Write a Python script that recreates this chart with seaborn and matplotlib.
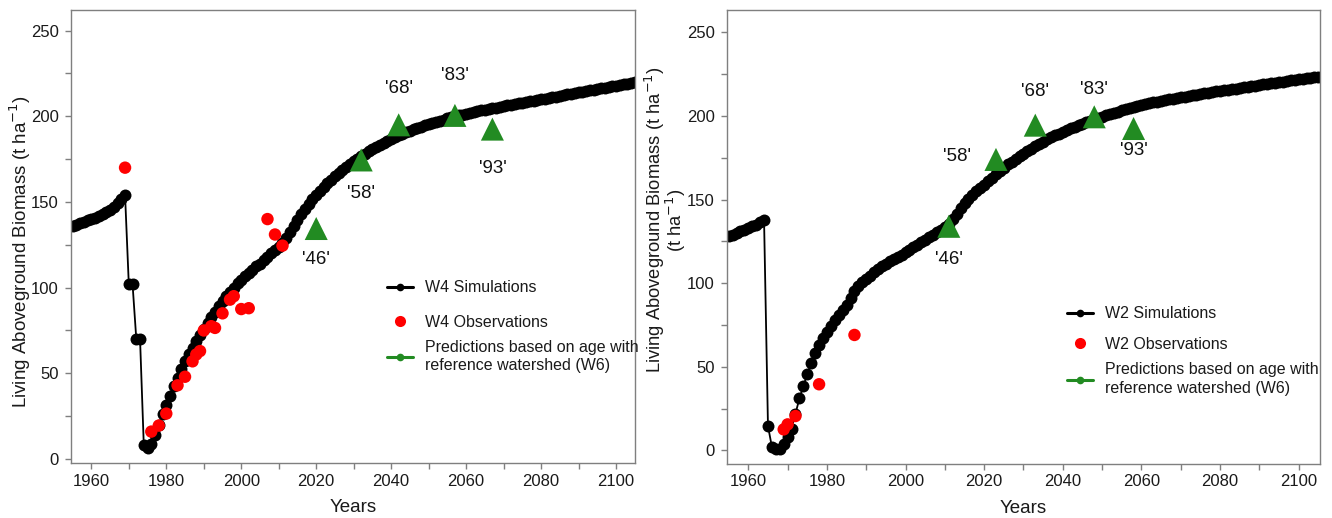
import matplotlib
matplotlib.use("Agg")
import matplotlib.pyplot as plt
from matplotlib.lines import Line2D
import seaborn as sns

# ---------------------------------------------------------------------------
# Data
# ---------------------------------------------------------------------------
sim_years = list(range(1955, 2106))

# W4: simulated living aboveground biomass (t/ha), one value per year 1955-2105
w4_sim = [
    136.0, 136.8, 137.6, 138.4, 139.2, 140.0, 140.9, 141.8, 142.8, 143.9,   # 1955-1964
    145.3, 147.2, 149.6, 152.0, 154.0, 102.0, 102.0, 70.0, 70.0, 8.0,       # 1965-1974
    6.5, 9.0, 14.0, 20.0, 26.0, 31.5, 37.0, 42.5, 47.5, 52.5,               # 1975-1984
    57.0, 61.0, 65.0, 69.0, 72.5, 76.0, 79.5, 83.0, 86.0, 89.0,             # 1985-1994
    92.0, 95.0, 97.5, 100.0, 102.5, 104.5, 106.5, 108.5, 110.5, 112.5,      # 1995-2004
    114.0, 116.0, 118.0, 120.0, 122.0, 124.0, 126.0, 129.0, 132.5, 136.0,   # 2005-2014
    139.5, 143.0, 146.0, 149.0, 151.5, 154.0, 156.5, 159.0, 161.0, 163.0,   # 2015-2024
    165.0, 167.0, 168.8, 170.5, 172.2, 173.8, 175.3, 176.8, 178.2, 179.6,   # 2025-2034
    181.0, 182.2, 183.4, 184.6, 185.7, 186.8, 187.8, 188.8, 189.7, 190.6,   # 2035-2044
    191.5, 192.3, 193.1, 193.9, 194.7, 195.5, 196.2, 196.9, 197.5, 198.1,   # 2045-2054
    198.7, 199.3, 199.9, 200.5, 201.0, 201.5, 202.0, 202.5, 203.0, 203.4,   # 2055-2064
    203.8, 204.3, 204.7, 205.1, 205.5, 205.9, 206.3, 206.7, 207.1, 207.5,   # 2065-2074
    207.9, 208.3, 208.7, 209.1, 209.5, 209.9, 210.3, 210.7, 211.1, 211.5,   # 2075-2084
    211.9, 212.3, 212.7, 213.1, 213.5, 213.9, 214.3, 214.7, 215.1, 215.5,   # 2085-2094
    215.9, 216.3, 216.7, 217.1, 217.5, 217.9, 218.3, 218.7, 219.1, 219.5,   # 2095-2104
    219.9,                                                                  # 2105
]

# W2: simulated living aboveground biomass (t/ha), one value per year 1955-2105
w2_sim = [
    128.0, 129.0, 130.0, 131.0, 132.0, 133.0, 134.0, 135.0, 136.5, 138.0,   # 1955-1964
    14.5, 2.0, 1.0, 1.0, 4.0, 8.0, 13.0, 22.0, 31.0, 38.5,                  # 1965-1974
    45.5, 52.5, 58.0, 63.0, 67.0, 71.0, 74.5, 78.0, 81.0, 84.0,             # 1975-1984
    87.0, 91.0, 95.0, 98.0, 100.5, 102.5, 104.5, 106.5, 108.3, 110.0,       # 1985-1994
    111.5, 113.0, 114.3, 115.5, 117.0, 118.5, 120.0, 121.5, 123.0, 124.5,   # 1995-2004
    126.0, 127.5, 129.0, 130.5, 132.0, 133.5, 135.5, 138.5, 141.5, 145.0,   # 2005-2014
    148.0, 150.5, 153.0, 155.0, 157.0, 159.0, 161.0, 163.0, 165.0, 167.0,   # 2015-2024
    169.0, 171.0, 172.7, 174.4, 176.0, 177.5, 179.0, 180.5, 182.0, 183.4,   # 2025-2034
    184.7, 186.0, 187.2, 188.4, 189.5, 190.6, 191.6, 192.6, 193.6, 194.5,   # 2035-2044
    195.4, 196.3, 197.1, 197.9, 198.7, 199.5, 200.3, 201.1, 201.9, 202.6,   # 2045-2054
    203.3, 204.0, 204.7, 205.3, 205.9, 206.5, 207.1, 207.6, 208.1, 208.6,   # 2055-2064
    209.1, 209.6, 210.0, 210.4, 210.8, 211.2, 211.6, 212.0, 212.4, 212.8,   # 2065-2074
    213.2, 213.6, 214.0, 214.3, 214.7, 215.0, 215.4, 215.7, 216.1, 216.4,   # 2075-2084
    216.8, 217.1, 217.5, 217.8, 218.2, 218.5, 218.9, 219.2, 219.6, 219.9,   # 2085-2094
    220.3, 220.6, 221.0, 221.3, 221.7, 222.0, 222.3, 222.6, 222.9, 223.2,   # 2095-2104
    223.5,                                                                  # 2105
]

# Field observations
w4_obs_years = [1969, 1976, 1978, 1980, 1983, 1985, 1987, 1988, 1989, 1990,
                1992, 1993, 1995, 1997, 1998, 2000, 2002, 2007, 2009, 2011]
w4_obs = [170.0, 16.0, 19.5, 26.5, 43.0, 48.0, 57.0, 61.0, 63.0, 75.0,
          77.5, 76.5, 85.0, 93.0, 95.0, 87.5, 88.0, 140.0, 131.0, 124.5]

w2_obs_years = [1969, 1970, 1972, 1978, 1987]
w2_obs = [12.5, 15.5, 20.5, 39.5, 69.0]

# Age-based predictions from the reference watershed (W6)
pred_labels = ["'46'", "'58'", "'68'", "'83'", "'93'"]
w4_pred_years = [2020, 2032, 2042, 2057, 2067]
w4_pred = [134.5, 174.5, 195.0, 200.5, 192.5]
w2_pred_years = [2011, 2023, 2033, 2048, 2058]
w2_pred = [134.0, 174.0, 194.5, 199.5, 192.5]

# label offsets (points) relative to each triangle
w4_label_offsets = [(0, -22), (0, -24.5), (0, 26), (0, 29), (0, -28.5)]
w2_label_offsets = [(0, -24), (-28, 2), (0, 24), (0, 19.5), (0, -16)]

x_ticks = list(range(1960, 2101, 10))
x_tick_labels = [str(t) if t % 20 == 0 else "" for t in x_ticks]
y_ticks = list(range(0, 251, 25))
y_tick_labels = [str(t) if t % 50 == 0 else "" for t in y_ticks]

# ---------------------------------------------------------------------------
# Style
# ---------------------------------------------------------------------------
sns.set_style("ticks")
plt.rcParams["font.family"] = ["Liberation Sans", "DejaVu Sans"]

GREEN = "#228B22"
SPINE = "#7f7f7f"
TEXT = "#1a1a1a"

fig = plt.figure(figsize=(13.32, 5.18), dpi=100)
ax_l = fig.add_axes([0.05308, 0.10560, 0.42380, 0.87510])
ax_r = fig.add_axes([0.54557, 0.10425, 0.44505, 0.87645])


def draw_panel(ax, sim, obs_years, obs, pred_years, pred, offsets, ylim, xlim):
    sns.lineplot(x=sim_years, y=sim, ax=ax, color="black", linewidth=1.3,
                 marker="o", markersize=8.6, markeredgewidth=0, legend=False,
                 zorder=2)
    sns.scatterplot(x=obs_years, y=obs, ax=ax, color="red", s=80,
                    edgecolor="none", linewidth=0, zorder=3, legend=False)
    sns.scatterplot(x=pred_years, y=pred, ax=ax, color=GREEN, marker="^",
                    s=275, edgecolor="none", linewidth=0, zorder=4, legend=False)
    for lab, px, py, off in zip(pred_labels, pred_years, pred, offsets):
        ax.annotate(lab, (px, py), xytext=off, textcoords="offset points",
                    ha="center", va="center", fontsize=13.5, color="#111111")

    ax.set_xlim(*xlim)
    ax.set_ylim(*ylim)
    ax.set_xticks(x_ticks)
    ax.set_xticklabels(x_tick_labels)
    ax.set_yticks(y_ticks)
    ax.set_yticklabels(y_tick_labels)
    ax.tick_params(axis="both", direction="out", length=4.5, width=1,
                   color=SPINE, labelcolor=TEXT, labelsize=12)
    ax.tick_params(axis="x", pad=3)
    ax.tick_params(axis="y", pad=4)
    for sp in ax.spines.values():
        sp.set_visible(True)
        sp.set_color(SPINE)
        sp.set_linewidth(1.0)
    ax.set_xlabel("Years", fontsize=13.5, color=TEXT, va="center")
    ax.xaxis.set_label_coords(0.5, -0.0985)


draw_panel(ax_l, w4_sim, w4_obs_years, w4_obs, w4_pred_years, w4_pred,
           w4_label_offsets, (-2.5, 262), (1954.5, 2105.1))
draw_panel(ax_r, w2_sim, w2_obs_years, w2_obs, w2_pred_years, w2_pred,
           w2_label_offsets, (-8.2, 263.4), (1954.5, 2105.3))

ax_l.set_ylabel("Living Aboveground Biomass (t ha$^{-1}$)", fontsize=13.5,
                color=TEXT, va="center")
ax_l.yaxis.set_label_coords(-0.0886, 0.466)
ax_r.set_ylabel("Living Aboveground Biomass (t ha$^{-1}$)\n(t ha$^{-1}$)",
                fontsize=13.2, color=TEXT, va="center", linespacing=0.82)
ax_r.yaxis.set_label_coords(-0.1035, 0.537)


def add_legends(ax, site, x0, top_y, spacing, pred_center_y):
    """Simulation/observation entries, then the prediction entry below them."""
    w, h = fig.get_size_inches() * fig.dpi
    common = dict(frameon=False, fontsize=11.5, handlelength=1.66,
                  handletextpad=0.73, borderpad=0, borderaxespad=0,
                  labelcolor=TEXT, bbox_transform=fig.transFigure)
    first = [
        Line2D([], [], color="black", lw=2.2, marker="o", ms=5.5,
               markeredgewidth=0, label=f"{site} Simulations"),
        Line2D([], [], color="red", lw=0, marker="o", ms=8,
               markeredgewidth=0, label=f"{site} Observations"),
    ]
    leg1 = ax.legend(handles=first, loc="upper left",
                     bbox_to_anchor=(x0 / w, 1 - top_y / h),
                     labelspacing=spacing, **common)
    ax.add_artist(leg1)
    second = [
        Line2D([], [], color=GREEN, lw=2.2, marker="o", ms=5.5,
               markeredgewidth=0,
               label="Predictions based on age with\nreference watershed (W6)"),
    ]
    leg2 = ax.legend(handles=second, loc="center left",
                     bbox_to_anchor=(x0 / w, 1 - pred_center_y / h), **common)
    for t in leg2.get_texts():
        t.set_linespacing(1.3)


add_legends(ax_l, "W4", 386.7, 280.5, 1.19, 356.4)
add_legends(ax_r, "W2", 1066.7, 306.5, 0.96, 379.2)

fig.savefig("out.png", dpi=100)
